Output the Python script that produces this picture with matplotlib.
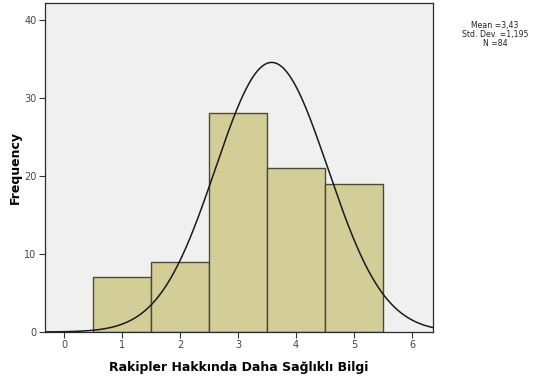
import numpy as np
import matplotlib
matplotlib.use("Agg")
import matplotlib.pyplot as plt

# Histogram of item responses
bin_centers = [1, 2, 3, 4, 5]
counts = [7, 9, 28, 21, 19]
x_ticks = [0, 1, 2, 3, 4, 5, 6]
y_ticks = [0, 10, 20, 30, 40]
stats_lines = ["Mean =3,43", "Std. Dev. =1,195", "N =84"]

# Fitted normal curve as plotted
curve_mean = 3.58
curve_sd = 0.97
n_total = sum(counts)
bin_width = 1.0

fig = plt.figure(figsize=(5.39, 3.85), dpi=100)
fig.patch.set_facecolor("white")
ax = fig.add_axes([0.0835, 0.1377, 0.7195, 0.8533])
ax.set_facecolor("#F0F0F0")

ax.bar(bin_centers, counts, width=bin_width, color="#D3CE98",
       edgecolor="#4A4A3A", linewidth=1.0, zorder=2)

xs = np.linspace(-0.33, 6.36, 400)
ys = n_total * bin_width / (curve_sd * np.sqrt(2 * np.pi)) * \
    np.exp(-0.5 * ((xs - curve_mean) / curve_sd) ** 2)
ax.plot(xs, ys, color="#1A1A1A", linewidth=1.1, zorder=3)

ax.set_xlim(-0.33, 6.36)
ax.set_ylim(0, 42.1)
ax.set_xticks(x_ticks)
ax.set_yticks(y_ticks)
ax.tick_params(axis="both", direction="out", length=4, width=0.8,
               colors="#333333", labelsize=7, pad=2)
for lbl in ax.get_xticklabels() + ax.get_yticklabels():
    lbl.set_color("#444444")

for side, sp in ax.spines.items():
    sp.set_color("#2A2A2A")
    sp.set_linewidth(0.9)

ax.set_ylabel("Frequency", fontsize=9, fontweight="bold", labelpad=2)
ax.set_xlabel("Rakipler Hakkında Daha Sağlıklı Bilgi", fontsize=9,
              fontweight="bold", labelpad=8)

fig.text(495 / 539, 1 - 21 / 385, "\n".join(stats_lines), ha="center",
         va="top", fontsize=5.6, linespacing=1.0, color="#222222")

fig.savefig("out.png", dpi=100)
